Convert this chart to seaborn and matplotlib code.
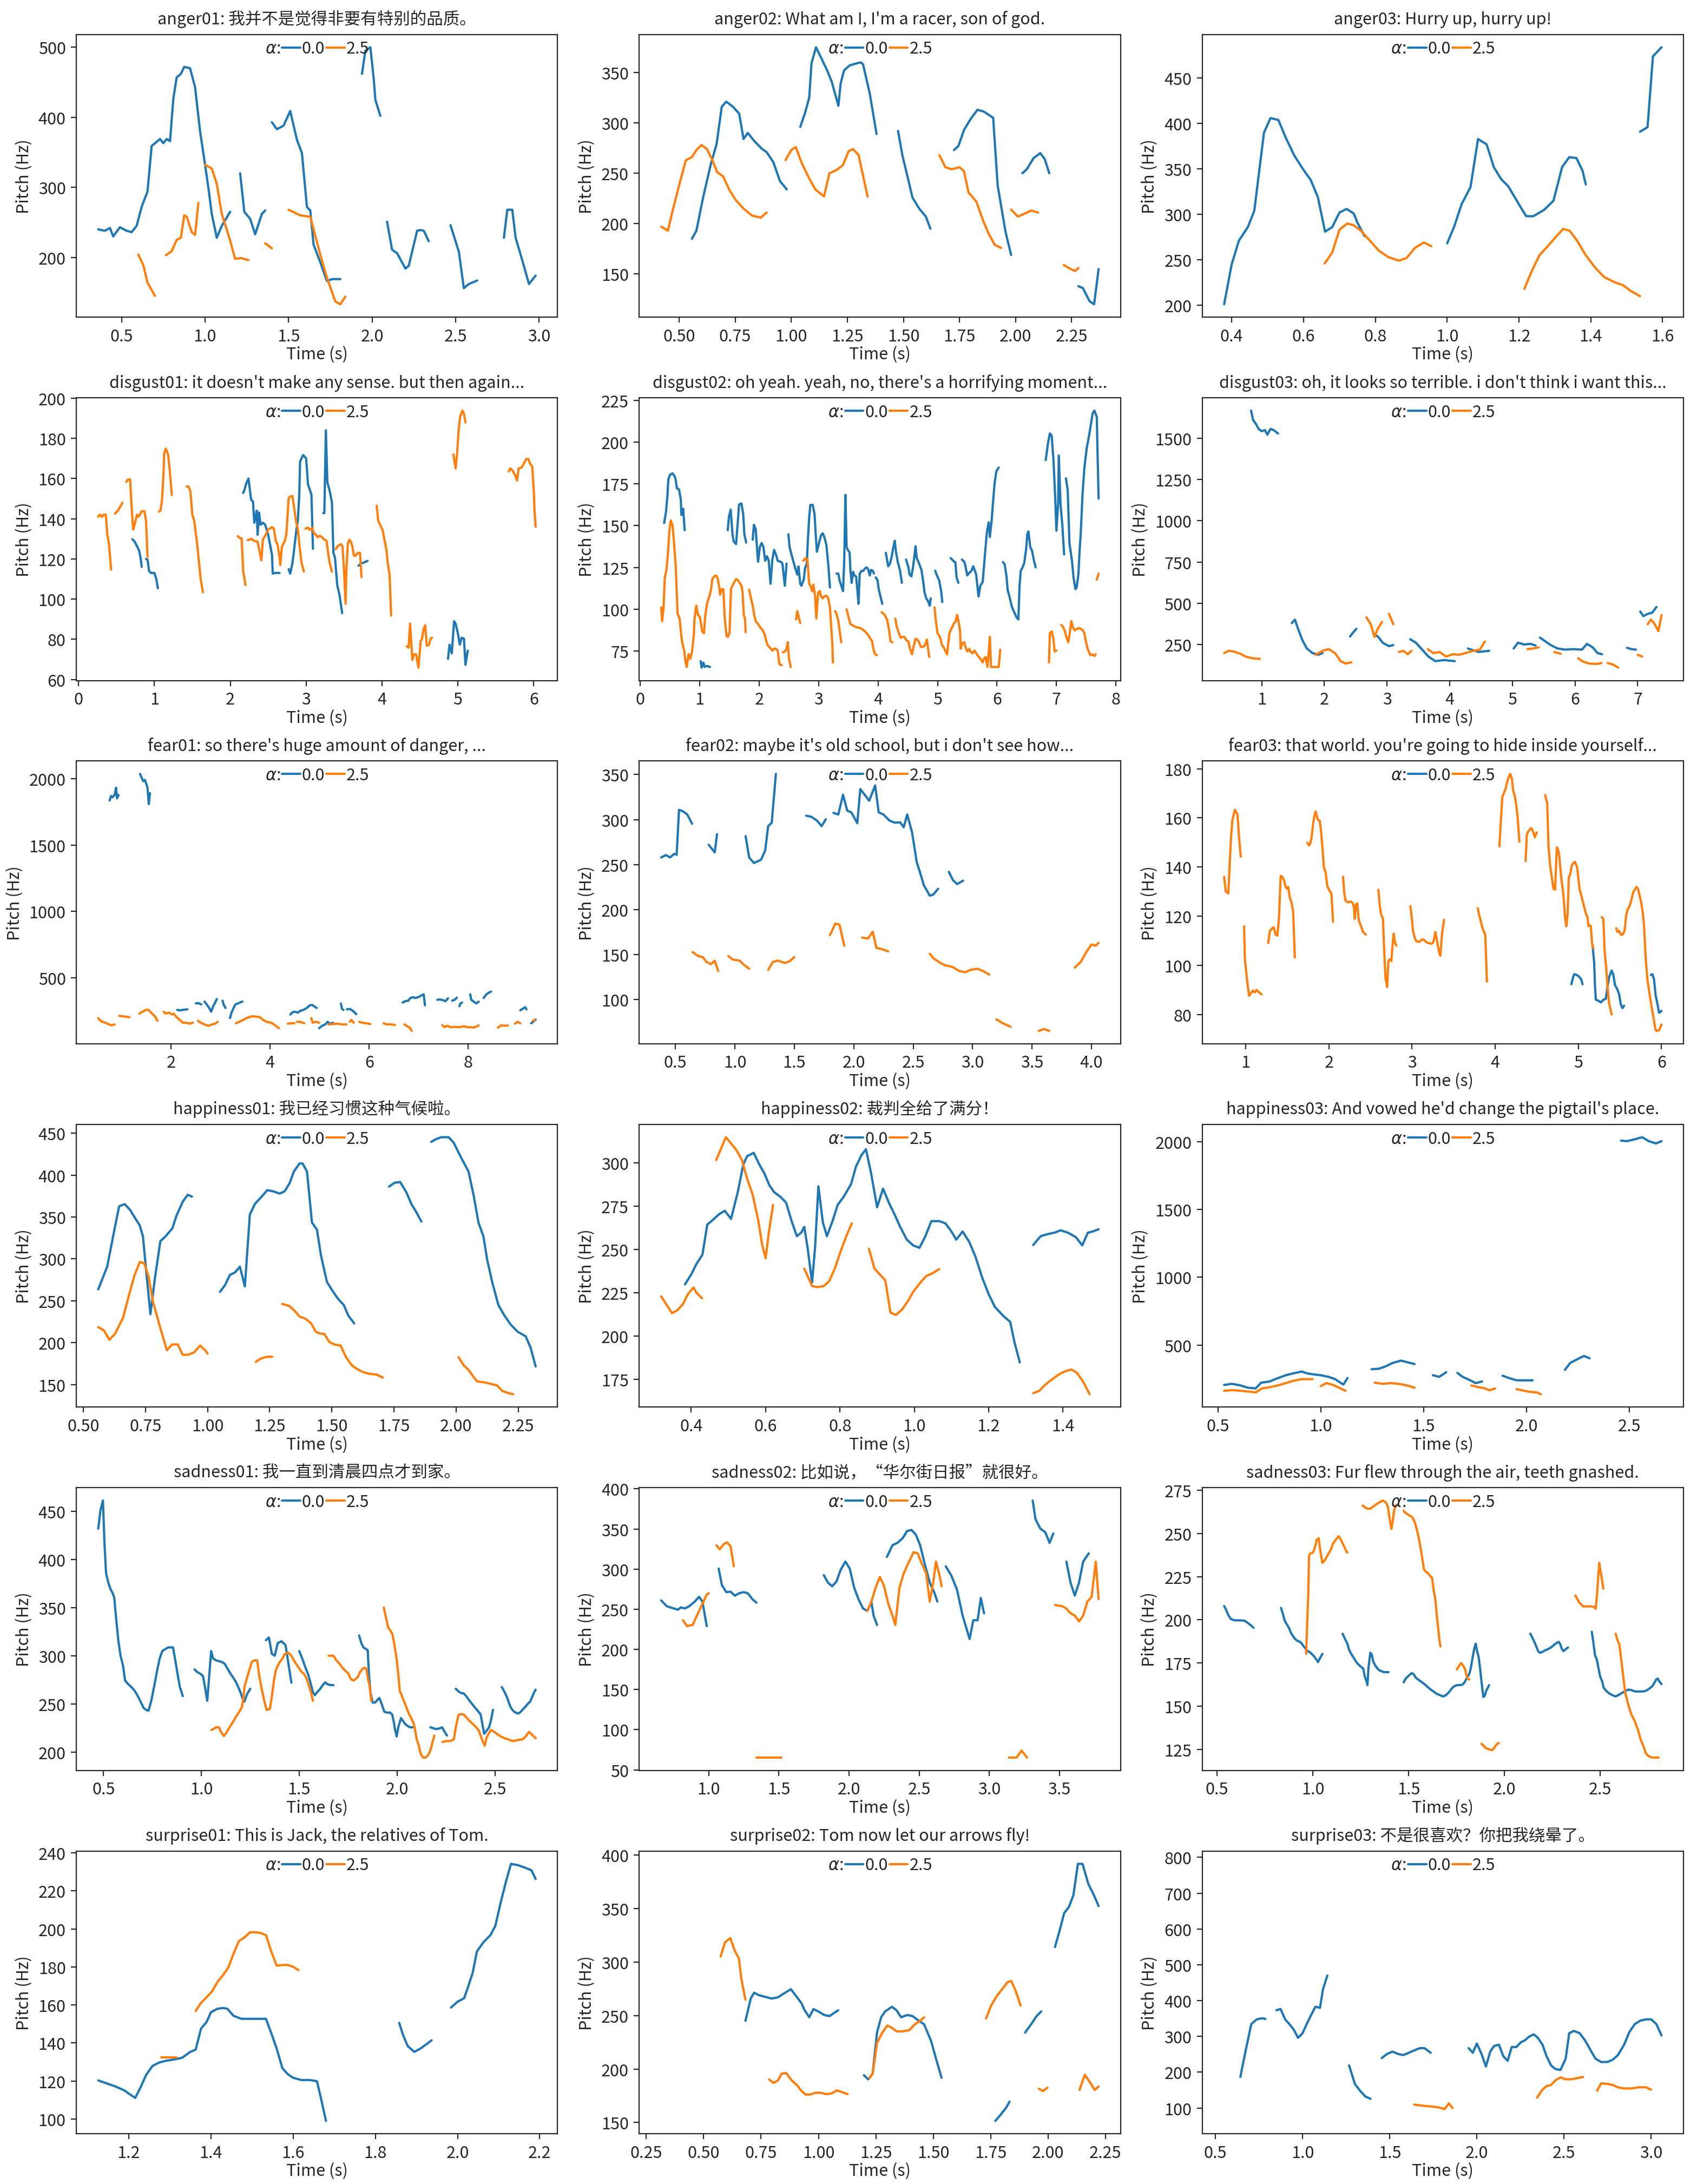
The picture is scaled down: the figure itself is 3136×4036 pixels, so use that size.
import matplotlib
matplotlib.use("Agg")
import matplotlib.pyplot as plt
from matplotlib.lines import Line2D
import numpy as np
import pandas as pd
import seaborn as sns

# pitch contours, one list of (time s, pitch Hz) per voiced segment
anger01_a0 = [
    [(0.36, 240), (0.40, 238), (0.43, 242), (0.45, 230), (0.49, 243), (0.53, 238), (0.56, 236), (0.59, 245), (0.62, 272), (0.655, 294), (0.68, 359), (0.73, 369), (0.75, 363), (0.77, 369), (0.79, 366), (0.81, 427), (0.83, 457), (0.855, 462), (0.875, 472), (0.91, 470), (0.94, 443), (0.97, 380), (1.0, 332), (1.02, 299), (1.04, 262), (1.07, 228), (1.10, 245), (1.15, 265)],
    [(1.21, 320), (1.235, 265), (1.27, 255), (1.30, 233), (1.34, 262), (1.36, 267)],
    [(1.40, 393), (1.43, 383), (1.47, 388), (1.51, 409), (1.55, 368), (1.58, 349), (1.61, 272), (1.63, 267), (1.65, 218), (1.69, 193), (1.73, 166), (1.76, 169), (1.81, 169)],
    [(1.94, 462), (1.96, 495), (1.99, 500), (2.01, 455), (2.02, 425), (2.05, 402)],
    [(2.09, 251), (2.12, 211), (2.15, 206), (2.20, 184), (2.22, 188), (2.27, 238), (2.29, 239), (2.31, 238), (2.34, 223)],
    [(2.47, 246), (2.52, 208), (2.55, 156), (2.58, 162), (2.63, 167)],
    [(2.79, 228), (2.81, 268), (2.84, 268), (2.86, 228), (2.89, 204), (2.94, 162), (2.98, 174)],
]
anger01_a1 = [
    [(0.60, 204), (0.63, 189), (0.655, 164), (0.70, 145)],
    [(0.765, 203), (0.80, 209), (0.83, 225), (0.855, 228), (0.875, 260), (0.89, 258), (0.92, 236), (0.94, 232), (0.96, 278)],
    [(1.0, 332), (1.04, 327), (1.07, 305), (1.10, 262), (1.145, 228), (1.18, 198), (1.215, 199), (1.26, 196)],
    [(1.36, 220), (1.40, 213)],
    [(1.50, 268), (1.57, 260), (1.63, 258), (1.66, 231), (1.69, 204), (1.73, 171), (1.78, 137), (1.81, 133), (1.84, 144)],
]

anger02_a0 = [
    [(0.557, 185), (0.577, 193), (0.605, 224), (0.64, 258), (0.667, 279), (0.69, 316), (0.71, 321), (0.74, 316), (0.768, 309), (0.787, 284), (0.806, 290), (0.835, 282), (0.87, 274), (0.89, 271), (0.92, 261), (0.95, 242), (0.98, 234)],
    [(1.04, 296), (1.06, 309), (1.08, 325), (1.09, 359), (1.11, 375), (1.13, 366), (1.16, 352), (1.18, 341), (1.21, 317), (1.22, 339), (1.235, 352), (1.26, 357), (1.29, 359), (1.31, 360), (1.32, 358), (1.35, 329), (1.38, 289)],
    [(1.476, 292), (1.495, 268), (1.52, 245), (1.54, 226), (1.57, 215), (1.60, 207), (1.62, 195)],
    [(1.725, 273), (1.745, 277), (1.77, 293), (1.80, 304), (1.83, 313), (1.86, 311), (1.90, 305), (1.92, 238), (1.955, 192), (1.98, 169)],
    [(2.03, 250), (2.05, 254), (2.08, 265), (2.11, 270), (2.13, 264), (2.15, 250)],
    [(2.28, 138), (2.30, 136), (2.33, 123), (2.35, 120), (2.37, 155)],
]
anger02_a1 = [
    [(0.42, 197), (0.45, 193), (0.47, 212), (0.50, 238), (0.53, 263), (0.557, 266), (0.577, 273), (0.60, 278), (0.624, 274), (0.648, 263), (0.67, 251), (0.696, 247), (0.725, 233), (0.754, 223), (0.787, 215), (0.825, 208), (0.864, 206), (0.89, 211)],
    [(0.974, 263), (1.0, 273), (1.02, 276), (1.045, 261), (1.075, 247), (1.107, 234), (1.146, 227), (1.17, 250), (1.20, 253), (1.23, 258), (1.256, 272), (1.275, 274), (1.30, 268), (1.34, 227)],
    [(1.66, 268), (1.687, 256), (1.715, 254), (1.75, 256), (1.77, 252), (1.79, 231), (1.825, 222), (1.855, 203), (1.88, 190), (1.907, 179), (1.935, 176)],
    [(1.98, 214), (2.01, 207), (2.04, 210), (2.07, 213), (2.10, 211)],
    [(2.215, 159), (2.245, 155), (2.265, 153), (2.28, 156)],
]

anger03_a0 = [
    [(0.379, 201), (0.40, 245), (0.42, 271), (0.445, 286), (0.463, 304), (0.478, 352), (0.49, 390), (0.508, 406), (0.53, 404), (0.55, 385), (0.574, 365), (0.60, 349), (0.62, 338), (0.64, 319), (0.66, 281), (0.68, 286), (0.70, 302), (0.72, 306), (0.74, 301), (0.75, 291), (0.77, 276)],
    [(1.0, 268), (1.02, 287), (1.04, 311), (1.065, 330), (1.086, 383), (1.11, 377), (1.13, 352), (1.15, 339), (1.17, 331), (1.20, 311), (1.22, 298), (1.24, 298), (1.27, 305), (1.296, 315), (1.32, 352), (1.34, 363), (1.36, 362), (1.377, 348), (1.386, 333)],
    [(1.537, 391), (1.558, 396), (1.573, 474), (1.597, 484)],
]
anger03_a1 = [
    [(0.659, 246), (0.68, 258), (0.70, 283), (0.722, 290), (0.74, 288), (0.76, 282), (0.785, 271), (0.81, 260), (0.836, 253), (0.866, 249), (0.887, 252), (0.91, 263), (0.935, 269), (0.956, 265)],
    [(1.215, 218), (1.236, 238), (1.257, 255), (1.28, 265), (1.30, 274), (1.323, 284), (1.341, 282), (1.362, 271), (1.386, 255), (1.413, 241), (1.437, 231), (1.468, 225), (1.49, 222), (1.51, 216), (1.537, 210)],
]

disgust01_a0 = [
    [(0.71, 129.8), (0.74, 128.6), (0.775, 126), (0.80, 124), (0.82, 120), (0.833, 116)],
    [(0.89, 120), (0.91, 119.6), (0.93, 114), (0.955, 113), (1.0, 113), (1.025, 110), (1.046, 105.4)],
    [(2.17, 152.8), (2.19, 154.6), (2.21, 157.5), (2.24, 160), (2.25, 157), (2.275, 149.5), (2.30, 148.5), (2.317, 138), (2.33, 140.5), (2.35, 144), (2.36, 132), (2.38, 143), (2.40, 137), (2.43, 138), (2.46, 137), (2.50, 132), (2.525, 127), (2.55, 122), (2.56, 112.7), (2.59, 113), (2.65, 113)],
    [(2.77, 114.9), (2.79, 112.7), (2.82, 118), (2.84, 124), (2.87, 134), (2.89, 139), (2.91, 152), (2.92, 168.4), (2.96, 171.7), (3.0, 170), (3.025, 157), (3.07, 152), (3.09, 125)],
    [(3.225, 142.8), (3.24, 142.8), (3.26, 184), (3.28, 158), (3.31, 154), (3.34, 148), (3.36, 123), (3.38, 120.6), (3.41, 107), (3.44, 102), (3.475, 93)],
    [(3.69, 116.6), (3.73, 118), (3.75, 118), (3.81, 119)],
    [(4.87, 70.3), (4.89, 77.3), (4.92, 73), (4.95, 89), (4.97, 87.8), (5.0, 83), (5.025, 77.3), (5.05, 80.8), (5.08, 80.3), (5.10, 67.3), (5.13, 74.3)],
]
disgust01_a1 = [
    [(0.26, 141), (0.28, 142), (0.31, 141), (0.33, 142), (0.36, 142), (0.38, 132), (0.40, 128), (0.43, 114.7)],
    [(0.48, 142.5), (0.52, 144), (0.55, 146), (0.58, 148)],
    [(0.63, 158.3), (0.65, 159.5), (0.68, 159.5), (0.70, 146), (0.72, 134.6), (0.73, 135.6), (0.77, 142), (0.79, 141), (0.81, 142), (0.83, 143.7), (0.87, 143.7), (0.89, 139), (0.91, 121)],
    [(1.06, 143.5), (1.08, 144), (1.10, 149), (1.12, 162), (1.13, 172.7), (1.15, 174.9), (1.18, 172), (1.20, 165), (1.23, 151.8)],
    [(1.425, 156), (1.45, 156), (1.475, 153.5), (1.50, 142), (1.525, 139), (1.56, 128.6), (1.59, 117.6), (1.61, 110), (1.64, 103.4)],
    [(2.10, 131.3), (2.13, 130.3), (2.15, 130.3), (2.17, 114), (2.20, 107)],
    [(2.23, 129.3), (2.28, 130), (2.31, 129), (2.36, 128.6), (2.39, 123), (2.41, 119.3), (2.43, 129.6), (2.47, 132.3), (2.50, 134.6), (2.55, 135.8), (2.575, 135), (2.60, 129), (2.625, 127), (2.65, 120.6), (2.66, 117), (2.68, 126), (2.72, 129), (2.74, 132.6), (2.77, 150.4), (2.80, 151.2), (2.82, 151.2), (2.84, 146), (2.87, 138), (2.89, 135), (2.92, 124), (2.94, 118), (2.97, 113.7)],
    [(2.99, 135), (3.02, 135.6), (3.05, 134.4), (3.08, 135.4), (3.10, 133), (3.13, 132), (3.15, 130.8), (3.18, 131.5), (3.21, 130.8), (3.23, 129.9), (3.27, 128.9), (3.29, 122.9), (3.31, 118), (3.34, 113.7)],
    [(3.39, 124.8), (3.42, 126.6), (3.46, 127.3), (3.48, 126), (3.50, 114), (3.52, 97.7), (3.53, 114), (3.55, 127.6), (3.57, 129.6), (3.59, 128.6), (3.61, 126), (3.63, 121.6), (3.65, 121.6), (3.68, 123), (3.71, 123), (3.73, 111)],
    [(3.93, 146.5), (3.95, 139), (3.98, 136.6), (4.01, 134), (4.03, 130), (4.06, 124), (4.075, 118), (4.10, 112), (4.12, 91.8)],
    [(4.325, 76.5), (4.35, 75.8), (4.37, 87.8), (4.40, 69.8), (4.42, 72.5), (4.45, 72.5), (4.48, 65.9), (4.51, 79.3), (4.525, 79.8), (4.55, 85.3), (4.57, 87), (4.59, 76.8), (4.62, 77.3), (4.64, 80.3), (4.66, 80.8)],
    [(4.94, 172), (4.97, 165), (4.99, 172.4), (5.01, 184), (5.03, 190.8), (5.06, 193.8), (5.08, 192.3), (5.10, 187.9)],
    [(5.67, 163.5), (5.69, 165), (5.72, 164), (5.75, 162), (5.78, 159), (5.80, 165), (5.84, 165.5), (5.87, 167.5), (5.90, 169.7), (5.93, 169.7), (5.95, 167.5), (5.98, 166), (6.0, 154), (6.01, 144), (6.025, 136)],
]

disgust02_a0 = [
    [(0.40, 151.6), (0.43, 158), (0.455, 167.9), (0.47, 177.7), (0.50, 180.5), (0.54, 181.3), (0.565, 180.3), (0.59, 178.3), (0.615, 172.3), (0.65, 171.7), (0.68, 165.7), (0.69, 156.4), (0.72, 160.2), (0.745, 147.3)],
    [(1.015, 68.9), (1.03, 65), (1.06, 68), (1.08, 65.4), (1.12, 66), (1.17, 65.4)],
    [(1.47, 147.3), (1.49, 155.3), (1.52, 159.6), (1.55, 144.8), (1.57, 140.5), (1.61, 139), (1.64, 152.5), (1.66, 162.6), (1.70, 163.3), (1.73, 157), (1.75, 144.8), (1.78, 139.9)],
    [(1.89, 141.6), (1.91, 150.5), (1.94, 148), (1.97, 132.8), (1.98, 128.4), (2.01, 137.2), (2.04, 139.6), (2.07, 137.2), (2.10, 129), (2.13, 131.7), (2.16, 129), (2.19, 115.2), (2.22, 129.5), (2.25, 135.5), (2.29, 131.7), (2.31, 129), (2.37, 128.2), (2.39, 127.3), (2.43, 114), (2.46, 127.3)],
    [(2.49, 144.8), (2.51, 137.2), (2.55, 131.7), (2.575, 128.4), (2.61, 124), (2.64, 120.7), (2.66, 125.6), (2.69, 115.2), (2.71, 114), (2.75, 117.9), (2.77, 124.5), (2.80, 127.3), (2.82, 142.6), (2.84, 154.7), (2.86, 162.4), (2.90, 162.4), (2.93, 157), (2.95, 144.8), (2.97, 134.4), (3.0, 138.8), (3.04, 144.3), (3.07, 145.4), (3.10, 142.6), (3.13, 138.3), (3.16, 127.3), (3.19, 113)],
    [(3.30, 121.3), (3.33, 121.3), (3.35, 117.4), (3.38, 114), (3.41, 110.8), (3.43, 129.5), (3.45, 168.4), (3.47, 137.2), (3.49, 135.5), (3.52, 133.9), (3.535, 122.9), (3.555, 115.8), (3.58, 122.4), (3.60, 120.2), (3.63, 119.6), (3.65, 112), (3.67, 103.2), (3.69, 121.3), (3.72, 122.9), (3.75, 122.9), (3.78, 124.5), (3.81, 125), (3.83, 124), (3.86, 120.2), (3.88, 123.5), (3.91, 123), (3.93, 121.3)],
    [(3.96, 119), (3.99, 117.4), (4.01, 112), (4.04, 107.6), (4.07, 103.2)],
    [(4.13, 133.7), (4.17, 125.6), (4.20, 127.3), (4.23, 131.7), (4.25, 136), (4.28, 141), (4.30, 134.4), (4.33, 128.4), (4.37, 122.9), (4.40, 115.8)],
    [(4.47, 129.7), (4.51, 125.1), (4.53, 120.7), (4.56, 119.6), (4.59, 125.7), (4.61, 131.7), (4.63, 137.7), (4.65, 130.6), (4.69, 127.3), (4.73, 123.4), (4.76, 116.3), (4.78, 110.3), (4.81, 106.5), (4.84, 104.8), (4.87, 102), (4.885, 106.5)],
    [(4.96, 123), (4.99, 120.2), (5.03, 116.9), (5.06, 110.9), (5.08, 104.3)],
    [(5.22, 130.6), (5.25, 129.5), (5.28, 128.4), (5.30, 128.2), (5.32, 119), (5.35, 115.8)],
    [(5.41, 129.7), (5.45, 128.4), (5.47, 125.7), (5.50, 120.2), (5.535, 121.8), (5.57, 122.9), (5.60, 125.7), (5.63, 122.9), (5.65, 120.7), (5.69, 107.6), (5.72, 114), (5.76, 116.3), (5.79, 129.5), (5.83, 146), (5.86, 152), (5.88, 143.2), (5.91, 153.1), (5.935, 164.6), (5.96, 175.5), (5.99, 182.7), (6.03, 184.8)],
    [(6.10, 128.2), (6.13, 126.8), (6.16, 119.6), (6.18, 111.4), (6.21, 107.6), (6.25, 101.5), (6.29, 98.2), (6.33, 95), (6.36, 93.9), (6.38, 114), (6.40, 122.9), (6.43, 125), (6.46, 127.8), (6.49, 136), (6.51, 144.8), (6.53, 146.5), (6.56, 137.2), (6.59, 135), (6.62, 129.5), (6.65, 125)],
    [(6.82, 189.3), (6.86, 199.7), (6.89, 205.2), (6.92, 204), (6.95, 189.8), (6.98, 166.8), (7.0, 147), (7.03, 164), (7.04, 192), (7.07, 162.4), (7.10, 150.3), (7.13, 132.8)],
    [(7.16, 178.3), (7.19, 171.2), (7.22, 139.4), (7.26, 129.5), (7.29, 118.5), (7.32, 112), (7.34, 113), (7.37, 120.7), (7.39, 135), (7.41, 145.4), (7.44, 169), (7.47, 184.3), (7.51, 196.4), (7.55, 204), (7.58, 210.6), (7.61, 217.2), (7.64, 218.9), (7.68, 215), (7.69, 197.5), (7.71, 166.2)],
]
disgust02_a1 = [
    [(0.35, 101), (0.365, 92.8), (0.39, 101), (0.41, 118.5), (0.44, 124), (0.46, 131.7), (0.49, 147.6), (0.51, 153.1), (0.54, 150.3), (0.565, 140.5), (0.595, 125), (0.626, 97.2), (0.66, 94.4), (0.69, 83.4), (0.71, 79.1), (0.74, 74.7), (0.756, 69.2), (0.78, 65.4), (0.81, 73), (0.84, 70.3), (0.87, 74.7), (0.90, 85.1), (0.91, 93.9), (0.94, 102.1), (0.97, 96.6), (1.0, 95.5), (1.04, 86.7), (1.07, 85.6), (1.09, 95.5), (1.12, 103.2), (1.16, 107.6), (1.19, 112), (1.21, 118), (1.24, 119.6), (1.275, 120.2), (1.30, 118.5), (1.33, 112.5), (1.34, 108.7), (1.37, 112), (1.395, 112), (1.42, 94.4), (1.45, 84), (1.47, 83.4), (1.50, 85.6), (1.525, 112), (1.55, 114.1), (1.59, 116.9), (1.61, 118), (1.64, 117.4), (1.66, 116.3), (1.70, 114.1), (1.72, 109.8), (1.74, 96.6), (1.76, 94.4), (1.77, 86.2)],
    [(1.83, 111.7), (1.86, 106.5), (1.89, 102.1), (1.915, 96.6), (1.94, 92.8), (1.98, 91.1), (2.02, 88.9), (2.05, 87.8), (2.09, 85.1), (2.12, 80.7), (2.14, 78.5), (2.18, 76.9), (2.22, 75.2), (2.25, 76.3), (2.28, 76.3), (2.31, 75.2), (2.34, 67), (2.38, 66.5)],
    [(2.40, 74.1), (2.43, 74.7), (2.46, 76.3), (2.48, 80.2), (2.50, 70.3), (2.53, 65.4)],
    [(2.62, 93.9), (2.64, 98.8), (2.66, 96), (2.69, 91.7)],
    [(2.74, 129), (2.78, 130.6), (2.81, 130), (2.84, 115.2), (2.86, 114.1), (2.89, 110.8), (2.91, 114.7), (2.94, 107.6), (2.96, 94.4), (2.99, 109.8), (3.02, 110.8), (3.04, 107.6), (3.07, 106.5), (3.09, 107.6), (3.13, 108.1), (3.16, 106.5), (3.19, 101), (3.21, 90), (3.23, 79), (3.24, 68.1)],
    [(3.275, 98.8), (3.30, 97.1), (3.33, 93.3), (3.35, 87.8), (3.38, 80.2)],
    [(3.47, 99.9), (3.50, 95.5), (3.535, 91.1), (3.585, 90), (3.64, 89.1), (3.70, 88.7), (3.74, 87.8), (3.78, 86.7), (3.82, 85.1), (3.86, 82.9), (3.90, 80.7), (3.92, 76.3), (3.95, 73), (3.98, 72.5)],
    [(4.06, 98.2), (4.11, 96.6), (4.15, 93.9), (4.18, 88.4), (4.21, 80.7), (4.24, 80.2)],
    [(4.29, 94.4), (4.31, 90), (4.35, 85.6), (4.38, 82.9), (4.41, 83.4), (4.44, 83.4), (4.48, 81.2), (4.51, 80.7), (4.54, 75.8), (4.57, 73), (4.60, 78), (4.63, 82.3), (4.66, 81.8), (4.69, 80.2), (4.72, 77.4), (4.76, 77.4), (4.79, 78.5), (4.82, 81.8), (4.86, 71.4)],
    [(4.95, 101), (4.97, 93.3), (5.0, 85.6), (5.04, 83.4), (5.08, 78), (5.10, 77.4), (5.135, 74.7), (5.16, 73), (5.20, 85.6), (5.22, 87.3), (5.25, 89.5), (5.28, 91.7), (5.30, 92.2), (5.33, 96.6), (5.35, 93.3), (5.38, 86.7), (5.39, 76.3), (5.42, 79.6), (5.45, 80.2), (5.47, 77.4), (5.50, 74.7), (5.535, 76.3), (5.55, 74.7), (5.59, 73.6), (5.62, 75.2), (5.65, 73.6), (5.68, 72), (5.72, 70.3), (5.76, 68.1), (5.78, 70.3), (5.81, 71.4), (5.84, 65.4), (5.86, 73.6), (5.88, 83.4), (5.90, 65.4), (5.95, 65.4), (6.03, 65.4), (6.055, 75.8)],
    [(6.875, 68.1), (6.89, 85.6), (6.92, 86.7), (6.95, 82.3), (6.97, 74.7), (7.0, 75.2)],
    [(7.08, 90.6), (7.11, 89.5), (7.145, 86.7), (7.17, 82.9), (7.20, 80.2), (7.22, 84.5), (7.25, 92.8), (7.28, 88.9), (7.31, 87.3), (7.34, 88), (7.37, 88.7), (7.40, 88.4), (7.44, 87.6), (7.47, 85.6), (7.50, 80.2), (7.52, 76.9), (7.55, 74.1), (7.57, 72.5), (7.60, 73), (7.64, 72), (7.66, 73)],
    [(7.68, 117.7), (7.71, 121.3)],
]

disgust03_a0 = [
    [(0.83, 1668), (0.86, 1613), (0.91, 1585), (0.95, 1557), (1.0, 1543), (1.05, 1550), (1.09, 1522), (1.14, 1557), (1.19, 1550), (1.26, 1529)],
    [(1.48, 380), (1.53, 401), (1.58, 345), (1.65, 275), (1.72, 226), (1.81, 198), (1.90, 188), (1.97, 198)],
    [(2.41, 299), (2.46, 324), (2.51, 345)],
    [(2.78, 317), (2.86, 296), (2.93, 261), (3.03, 240), (3.10, 247)],
    [(3.37, 282), (3.46, 261), (3.56, 219), (3.66, 177), (3.77, 149), (3.91, 156), (4.08, 149)],
    [(4.29, 226), (4.46, 205), (4.63, 212)],
    [(5.02, 226), (5.09, 261), (5.19, 250), (5.29, 254), (5.37, 244)],
    [(5.44, 292), (5.53, 268), (5.61, 247), (5.72, 226), (5.84, 219), (5.97, 222), (6.11, 219), (6.19, 254), (6.28, 233), (6.36, 198), (6.43, 191)],
    [(6.83, 230), (6.90, 222), (6.97, 219)],
    [(7.04, 450), (7.09, 422), (7.16, 436), (7.23, 443), (7.30, 478)],
]
disgust03_a1 = [
    [(0.40, 198), (0.47, 212), (0.55, 208), (0.66, 194), (0.74, 177), (0.86, 166), (0.97, 163)],
    [(1.86, 188), (1.97, 212), (2.07, 222), (2.17, 198), (2.26, 149), (2.34, 135), (2.43, 142)],
    [(2.67, 415), (2.74, 373), (2.80, 296), (2.85, 345), (2.92, 387)],
    [(3.03, 436), (3.10, 373)],
    [(3.19, 205), (3.26, 212), (3.33, 191), (3.39, 212)],
    [(3.65, 222), (3.74, 198), (3.84, 205), (3.94, 177), (4.05, 191), (4.15, 188), (4.25, 198), (4.37, 212), (4.48, 219), (4.56, 268)],
    [(5.24, 222), (5.33, 226), (5.42, 233)],
    [(5.67, 205), (5.77, 194)],
    [(6.05, 166), (6.13, 146), (6.22, 135), (6.35, 132), (6.42, 138)],
    [(6.52, 138), (6.61, 128), (6.69, 110)],
    [(7.0, 188), (7.07, 177)],
    [(7.16, 373), (7.21, 401), (7.26, 380), (7.33, 331), (7.38, 429)],
]

fear01_a0 = [
    [(0.76, 1837), (0.79, 1871), (0.82, 1862), (0.86, 1878), (0.89, 1933), (0.91, 1853), (0.94, 1878)],
    [(1.375, 2037), (1.41, 2005), (1.44, 1982), (1.475, 1992), (1.50, 1961), (1.525, 1933), (1.55, 1809), (1.575, 1892)],
    [(2.125, 259), (2.175, 255), (2.24, 259), (2.33, 263)],
    [(2.50, 307), (2.55, 310), (2.61, 300)],
    [(2.675, 321), (2.72, 300), (2.77, 273), (2.81, 245), (2.85, 286), (2.89, 314), (2.925, 341)],
    [(3.04, 328), (3.06, 300), (3.10, 273)],
    [(3.19, 197), (3.22, 238), (3.27, 279), (3.30, 300), (3.35, 307), (3.39, 314), (3.44, 321)],
    [(4.41, 224), (4.44, 238), (4.50, 245), (4.56, 238), (4.61, 252), (4.675, 259), (4.74, 273), (4.80, 293), (4.85, 296), (4.89, 286), (4.94, 273)],
    [(4.99, 121), (5.05, 139), (5.11, 149), (5.16, 169), (5.21, 155), (5.27, 162)],
    [(5.43, 307), (5.45, 266), (5.48, 259)],
    [(5.55, 263), (5.61, 266), (5.675, 250), (5.74, 226)],
    [(6.675, 314), (6.725, 324), (6.79, 328), (6.83, 348), (6.89, 355), (6.925, 348), (7.0, 355), (7.06, 369), (7.10, 376), (7.125, 293)],
    [(7.375, 335), (7.425, 337), (7.49, 332), (7.54, 324), (7.59, 346)],
    [(7.675, 328), (7.725, 335), (7.77, 351)],
    [(7.82, 286), (7.84, 307), (7.875, 314)],
    [(8.04, 376), (8.06, 335), (8.11, 321), (8.16, 307), (8.21, 321)],
    [(8.31, 348), (8.35, 369), (8.39, 383), (8.46, 397)],
    [(9.05, 255), (9.10, 268), (9.15, 279), (9.175, 263)],
    [(9.27, 158), (9.31, 169), (9.36, 186)],
]
fear01_a1 = [
    [(0.53, 197), (0.56, 183), (0.61, 169), (0.675, 162), (0.75, 149), (0.80, 142), (0.86, 149)],
    [(0.955, 214), (1.02, 211), (1.08, 208), (1.16, 204)],
    [(1.36, 231), (1.425, 245), (1.49, 259), (1.54, 259), (1.58, 245), (1.625, 227), (1.675, 211), (1.725, 176)],
    [(1.85, 245), (1.89, 231), (1.955, 238), (2.02, 224)],
    [(2.05, 231), (2.11, 204), (2.175, 183), (2.24, 162), (2.31, 162), (2.375, 155), (2.44, 162)],
    [(2.54, 176), (2.60, 162), (2.675, 149), (2.75, 139), (2.83, 149), (2.89, 155), (2.94, 169)],
    [(3.31, 158), (3.375, 169), (3.46, 183), (3.52, 197), (3.58, 204), (3.64, 211), (3.71, 208), (3.79, 204), (3.86, 183), (3.925, 169), (4.02, 162), (4.08, 149), (4.175, 121)],
    [(4.36, 155), (4.43, 158), (4.49, 158)],
    [(4.54, 169), (4.60, 169), (4.69, 158)],
    [(4.83, 197), (4.86, 162), (4.925, 169), (4.99, 162)],
    [(5.175, 149), (5.27, 152), (5.36, 155), (5.455, 149), (5.54, 149)],
    [(5.61, 169), (5.64, 183), (5.69, 162)],
    [(5.80, 169), (5.86, 162), (5.94, 158), (6.02, 152)],
    [(6.29, 158), (6.36, 149), (6.455, 149), (6.52, 144)],
    [(6.71, 149), (6.77, 135), (6.81, 128), (6.86, 100)],
    [(7.475, 144), (7.52, 128), (7.58, 139), (7.64, 128), (7.725, 131), (7.81, 128), (7.91, 135), (7.99, 128), (8.05, 128), (8.11, 125), (8.175, 135), (8.21, 142)],
    [(8.60, 125), (8.66, 142), (8.74, 139), (8.80, 142)],
    [(8.94, 155), (9.0, 169), (9.05, 158)],
    [(9.30, 176), (9.34, 183)],
]

fear02_a0 = [
    [(0.38, 258), (0.42, 260.6), (0.455, 258), (0.49, 262), (0.51, 261), (0.53, 310.8), (0.56, 309.5), (0.60, 305.7), (0.64, 295.4)],
    [(0.78, 272), (0.83, 263.7), (0.85, 283.8)],
    [(1.09, 281.7), (1.12, 258), (1.16, 251.8), (1.22, 255.4), (1.255, 265.7), (1.28, 292.8), (1.31, 296.6), (1.345, 350.8)],
    [(1.60, 304.4), (1.645, 303), (1.69, 299), (1.73, 292.8), (1.765, 300.5)],
    [(1.83, 307.5), (1.87, 305.7), (1.91, 327.6), (1.945, 310), (1.98, 308), (2.03, 296), (2.055, 334), (2.10, 326.3), (2.13, 321), (2.18, 338), (2.21, 308), (2.25, 305.7), (2.30, 299), (2.345, 296.6), (2.39, 297), (2.42, 291.5), (2.45, 305.7), (2.49, 286.3), (2.53, 252.8), (2.555, 242.5), (2.59, 227), (2.64, 215.5), (2.67, 216.8), (2.71, 223.2)],
    [(2.80, 242), (2.835, 232.7), (2.87, 228.4), (2.92, 232.2)],
]
fear02_a1 = [
    [(0.645, 152.8), (0.69, 148.5), (0.73, 147.2), (0.76, 142), (0.80, 139.4), (0.83, 143.3), (0.86, 131.7)],
    [(0.945, 148.5), (0.98, 144.6), (1.04, 143.3), (1.07, 139.4), (1.12, 134.3)],
    [(1.28, 133), (1.32, 142), (1.365, 143.3), (1.42, 140.7), (1.46, 142.5), (1.50, 147.2)],
    [(1.80, 171.6), (1.845, 184.5), (1.88, 183.2), (1.92, 160)],
    [(2.07, 169), (2.12, 167.8), (2.16, 175.5), (2.19, 157.5), (2.235, 156.2), (2.29, 153.6)],
    [(2.64, 151), (2.67, 145.9), (2.73, 140.7), (2.77, 138.1), (2.83, 136.3), (2.89, 131.7), (2.94, 130.4), (2.98, 133), (3.04, 134.3), (3.09, 131.7), (3.14, 127.8)],
    [(3.20, 78.1), (3.255, 73.7), (3.32, 69.8)],
    [(3.555, 65.2), (3.60, 67.3), (3.645, 65.2)],
    [(3.86, 135.6), (3.91, 142), (3.96, 153.6), (4.0, 161.3), (4.035, 160), (4.06, 163.1)],
]

fear03_a0 = [
    [(4.915, 92.3), (4.935, 95), (4.95, 96.4), (4.98, 96.1), (5.01, 95.3), (5.035, 94.2), (5.05, 92.3)],
    [(5.17, 108.4), (5.19, 100.9), (5.20, 91.2), (5.21, 86), (5.24, 85.6), (5.27, 84.9), (5.30, 86), (5.33, 86.4), (5.35, 91.2), (5.37, 95.3), (5.40, 97.9), (5.42, 96.1), (5.44, 92), (5.47, 90.1), (5.49, 88.2), (5.51, 84.1), (5.53, 82.6), (5.55, 83.6)],
    [(5.87, 96.1), (5.89, 96.4), (5.91, 94.2), (5.93, 87.5), (5.95, 84.5), (5.97, 80.7), (5.99, 81.1), (6.0, 81.5)],
]
fear03_a1 = [
    [(0.74, 136), (0.76, 130), (0.79, 129.3), (0.81, 143.5), (0.825, 153.2), (0.84, 159.2), (0.87, 163.3), (0.90, 161.5), (0.92, 151.7), (0.94, 144.2)],
    [(0.98, 115.9), (0.99, 102.4), (1.015, 94.2), (1.04, 87.6), (1.06, 88.6), (1.085, 89.7), (1.11, 89), (1.13, 90), (1.16, 89), (1.19, 88.2)],
    [(1.27, 109.1), (1.29, 114), (1.32, 115.1), (1.335, 115.5), (1.36, 112.5), (1.38, 112.1), (1.40, 119.6), (1.42, 136.4), (1.44, 136), (1.46, 134.6), (1.48, 131.9), (1.495, 131.2), (1.51, 131.9), (1.53, 127.5), (1.55, 125.6), (1.57, 121.9), (1.59, 103.2)],
    [(1.74, 149.9), (1.76, 148.8), (1.775, 149.5), (1.79, 151.7), (1.81, 157.7), (1.83, 161.5), (1.84, 162.6), (1.86, 160), (1.87, 159.2), (1.89, 158.8), (1.905, 154.7), (1.92, 148.8), (1.94, 139.8), (1.96, 137.9), (1.98, 132.3), (2.0, 130.8), (2.02, 129.7), (2.03, 129.3), (2.05, 117.7)],
    [(2.17, 136), (2.185, 129.3), (2.20, 126.3), (2.23, 125.6), (2.26, 126), (2.28, 125.6), (2.30, 124.1), (2.31, 118.9), (2.325, 124.8), (2.34, 125.2), (2.36, 118.1), (2.37, 117.4), (2.39, 115.5), (2.41, 113.6), (2.43, 112.9), (2.445, 112.5)],
    [(2.595, 130.8), (2.61, 124.8), (2.625, 121.1), (2.65, 118.9), (2.66, 109.9), (2.68, 94.9), (2.70, 91.2), (2.715, 101.7), (2.73, 102.4), (2.75, 101.7), (2.77, 109.9), (2.78, 112.9), (2.79, 109.9), (2.81, 108)],
    [(2.98, 124.1), (3.0, 118.1), (3.01, 114.4), (3.03, 111.4), (3.05, 109.9), (3.08, 109.5), (3.10, 109.9), (3.12, 110.6), (3.145, 110.3), (3.17, 109.5), (3.19, 109.1), (3.21, 109), (3.23, 108.8), (3.25, 109.1), (3.265, 110.6), (3.28, 113.6), (3.295, 111), (3.31, 108), (3.325, 105.4), (3.34, 103.9), (3.36, 112.9), (3.385, 118.5)],
    [(3.79, 123.2), (3.805, 120.7), (3.82, 118.9), (3.84, 115.9), (3.86, 114), (3.88, 112.5), (3.90, 93.4)],
    [(4.05, 148.4), (4.07, 160), (4.085, 168.6), (4.105, 170.1), (4.125, 171.9), (4.14, 174.2), (4.16, 176.4), (4.18, 177.9), (4.20, 176), (4.215, 171.2), (4.235, 168.9), (4.25, 166), (4.27, 160), (4.29, 150.3)],
    [(4.365, 142.4), (4.38, 153.2), (4.40, 154.7), (4.415, 155.1), (4.43, 155.9), (4.445, 155.1), (4.46, 154), (4.475, 152.1), (4.49, 153.2), (4.50, 154.1)],
    [(4.60, 169.3), (4.625, 166), (4.64, 148.8), (4.66, 140.5), (4.68, 136), (4.70, 131.2), (4.72, 130.8), (4.74, 148), (4.755, 147.3), (4.77, 144.6), (4.79, 136.8), (4.82, 128.6), (4.84, 119.2), (4.855, 115.9), (4.87, 121.1), (4.885, 136), (4.90, 136.8), (4.92, 140.5), (4.94, 141.7), (4.96, 142.1), (4.985, 139.8), (5.015, 130.8), (5.035, 128.6), (5.05, 126.3), (5.07, 123.7), (5.09, 121.1), (5.11, 119.6), (5.12, 115.9), (5.135, 116.3), (5.15, 115.9), (5.165, 108.4), (5.18, 106.9)],
    [(5.28, 119.6), (5.30, 118.9), (5.315, 106.2), (5.335, 98.7), (5.35, 91.2), (5.37, 84.5), (5.40, 80)],
    [(5.455, 115.1), (5.47, 113.6), (5.49, 114), (5.51, 112.5), (5.53, 112.5), (5.555, 114), (5.575, 120.4), (5.59, 122.6), (5.61, 123.7), (5.63, 125.6), (5.65, 128.6), (5.665, 130.1), (5.685, 131.2), (5.70, 131.9), (5.72, 130.8), (5.74, 127.8), (5.755, 125.6), (5.775, 121.1), (5.79, 115.9), (5.81, 102.4), (5.83, 94.2), (5.85, 89.7), (5.87, 85.2), (5.89, 81.1), (5.905, 78.5), (5.925, 74), (5.94, 73.3), (5.97, 73.6), (5.99, 75.1), (6.0, 75.9)],
]

happiness01_a0 = [
    [(0.56, 263.6), (0.596, 290.7), (0.627, 337.8), (0.644, 362.7), (0.666, 365.5), (0.688, 358.6), (0.705, 350.3), (0.727, 340), (0.74, 326.7), (0.753, 285.2), (0.77, 234), (0.788, 276.9), (0.81, 321.2), (0.83, 326.7), (0.858, 336.4), (0.875, 351.7), (0.90, 368.3), (0.92, 376.6), (0.937, 374.4)],
    [(1.05, 260.8), (1.07, 268.6), (1.09, 281), (1.11, 283.8), (1.13, 290.7), (1.15, 267.2), (1.17, 353), (1.19, 365.5), (1.216, 373.8), (1.24, 382.1), (1.264, 380.7), (1.29, 378), (1.31, 380.7), (1.33, 390.4), (1.347, 404.3), (1.37, 414), (1.382, 414), (1.40, 404.3), (1.42, 343.4), (1.44, 335), (1.456, 304.6), (1.48, 272.7), (1.50, 263), (1.526, 251.9), (1.548, 245), (1.566, 232.5), (1.59, 222.9)],
    [(1.73, 386.3), (1.753, 391), (1.775, 391.8), (1.80, 379.4), (1.82, 365.5), (1.84, 355.8), (1.86, 344.7)],
    [(1.90, 439.8), (1.92, 443.1), (1.94, 445.3), (1.97, 445.3), (1.99, 438.9), (2.02, 421), (2.05, 404.3), (2.07, 376.6), (2.09, 343.4), (2.11, 326.7), (2.125, 299), (2.146, 271.3), (2.17, 245), (2.194, 232.5), (2.22, 221.5), (2.247, 213.2), (2.28, 207.6), (2.30, 193.8), (2.32, 171.6)],
]
happiness01_a1 = [
    [(0.56, 218.7), (0.583, 214.5), (0.605, 203.5), (0.627, 210.4), (0.66, 229.8), (0.683, 256.1), (0.705, 279.6), (0.727, 296.3), (0.745, 294.9), (0.762, 279.6), (0.78, 249.2), (0.806, 221.5), (0.836, 191), (0.858, 197.9), (0.88, 197.9), (0.90, 185.5), (0.92, 185.5), (0.945, 188.2), (0.97, 196.5), (0.99, 191), (1.0, 186.8)],
    [(1.194, 177.1), (1.216, 181.3), (1.24, 183.2), (1.26, 183.2)],
    [(1.30, 246.4), (1.33, 243.6), (1.35, 238.1), (1.37, 231.2), (1.395, 228.4), (1.417, 222.9), (1.435, 213.2), (1.45, 211), (1.47, 210.4), (1.49, 200.7), (1.51, 197.9), (1.535, 196.5), (1.557, 182.7), (1.58, 173), (1.60, 168.8), (1.627, 164.7), (1.653, 162.7), (1.68, 161.9), (1.705, 158.3)],
    [(2.01, 182.7), (2.03, 173), (2.05, 167.5), (2.07, 159.1), (2.085, 153.6), (2.11, 152.8), (2.14, 150.8), (2.165, 148.9), (2.185, 142.5), (2.21, 139.8), (2.23, 138.4)],
]

happiness02_a0 = [
    [(0.383, 229.8), (0.40, 235.6), (0.414, 241.6), (0.43, 246.9), (0.443, 264.3), (0.458, 267), (0.475, 270.3), (0.49, 272.3), (0.507, 267.6), (0.525, 283), (0.54, 299), (0.55, 303.7), (0.568, 305.7), (0.583, 299), (0.597, 293.7), (0.61, 287), (0.623, 283), (0.64, 280.3), (0.655, 277), (0.67, 266.3), (0.684, 257.6), (0.696, 259.7), (0.704, 263), (0.713, 250.9), (0.725, 230.9), (0.733, 250.9), (0.742, 286.4), (0.754, 265.6), (0.765, 257.6), (0.78, 266.3), (0.794, 275.7), (0.81, 280.3), (0.83, 287.7), (0.843, 297.7), (0.858, 304.4), (0.87, 307.8), (0.884, 293.7), (0.90, 274.3), (0.916, 285), (0.933, 276.3), (0.948, 269.7), (0.962, 263), (0.98, 255.6), (0.997, 252.3), (1.014, 250.9), (1.03, 257.6), (1.046, 266.3), (1.067, 266.3), (1.084, 265), (1.10, 260.3), (1.113, 255.6), (1.13, 260.3), (1.148, 254.3), (1.165, 245.6), (1.183, 233.6), (1.20, 224.2), (1.217, 216.8), (1.24, 211.5), (1.258, 208.2), (1.27, 196.1), (1.284, 184.8)],
    [(1.32, 252.5), (1.34, 257.6), (1.357, 258.7), (1.377, 259.6), (1.394, 261), (1.414, 259.6), (1.435, 257), (1.452, 252.3), (1.467, 259.6), (1.48, 260.3), (1.496, 261.6)],
]
happiness02_a1 = [
    [(0.319, 222.9), (0.333, 218.2), (0.348, 213.2), (0.362, 214.8), (0.377, 218.2), (0.391, 224.2), (0.406, 228), (0.414, 224.9), (0.429, 221.8)],
    [(0.467, 301.5), (0.478, 307.1), (0.493, 314.7), (0.507, 311.1), (0.522, 307.1), (0.536, 301.7), (0.55, 291), (0.565, 281.7), (0.58, 267), (0.591, 252.3), (0.60, 244.9), (0.609, 260.3), (0.62, 275.7)],
    [(0.704, 238.9), (0.725, 228.9), (0.739, 228.2), (0.757, 228.9), (0.771, 231.6), (0.786, 238.9), (0.803, 249.6), (0.817, 257.6), (0.832, 265)],
    [(0.878, 250.3), (0.893, 238.9), (0.907, 235.6), (0.922, 232.2), (0.936, 213.5), (0.951, 212.2), (0.968, 215.5), (0.983, 220.2), (0.997, 225.5), (1.014, 230.2), (1.032, 234.6), (1.049, 236.2), (1.067, 238.6)],
    [(1.32, 167), (1.336, 168.3), (1.35, 171.4), (1.365, 174.1), (1.386, 177.4), (1.403, 179.4), (1.423, 180.7), (1.438, 178.7), (1.455, 173.4), (1.472, 166.4)],
]

happiness03_a0 = [
    [(0.53, 205.5), (0.568, 214), (0.61, 202), (0.646, 185), (0.683, 180), (0.71, 222.6), (0.75, 231), (0.787, 253.4), (0.83, 277.4), (0.866, 291), (0.907, 304.8), (0.933, 291), (0.97, 282.5), (1.0, 277.4), (1.038, 265.4), (1.07, 248.3), (1.095, 222.6), (1.11, 208.9), (1.13, 256.8)],
    [(1.247, 321.9), (1.283, 325.3), (1.315, 342.5), (1.35, 368), (1.39, 385.3), (1.42, 373.3), (1.456, 359.6)],
    [(1.545, 277.4), (1.576, 265.4), (1.61, 299.7)],
    [(1.664, 294.5), (1.69, 265.4), (1.727, 239.7), (1.753, 219.2), (1.784, 231)],
    [(1.884, 274), (1.915, 256.8), (1.952, 239.7), (1.993, 239.7), (2.03, 239.7)],
    [(2.187, 316.8), (2.213, 368), (2.25, 397.3), (2.28, 419.5), (2.307, 402.4)],
    [(2.46, 2007), (2.49, 2003), (2.527, 2017), (2.563, 2032), (2.595, 2003), (2.63, 1986), (2.657, 2003)],
]
happiness03_a1 = [
    [(0.53, 162.7), (0.568, 167.8), (0.61, 162.7), (0.646, 157.5), (0.683, 150.7), (0.714, 179.8), (0.75, 188.4), (0.79, 202), (0.83, 219.2), (0.866, 236.3), (0.907, 248.3), (0.933, 248.3), (0.96, 248.3)],
    [(1.0, 197), (1.027, 219.2), (1.06, 205.5), (1.09, 185), (1.12, 162.7)],
    [(1.262, 222.6), (1.30, 214), (1.34, 219.2), (1.377, 214), (1.42, 202), (1.456, 185)],
    [(1.732, 202), (1.77, 188.4), (1.80, 180), (1.82, 166), (1.847, 180)],
    [(1.952, 174.7), (1.99, 162.7), (2.02, 154), (2.05, 150.7), (2.07, 137)],
]

sadness01_a0 = [
    [(0.473, 431.8), (0.484, 450.5), (0.497, 461), (0.505, 416.2), (0.513, 385.7), (0.524, 376.2), (0.535, 369.5), (0.547, 364.8), (0.555, 360), (0.563, 341.9), (0.576, 315.2), (0.587, 300), (0.60, 289.5), (0.61, 274.3), (0.626, 270.5), (0.642, 267.6), (0.658, 263.8), (0.67, 260), (0.68, 256.2), (0.694, 250.5), (0.705, 245.7), (0.718, 243.8), (0.73, 242.9), (0.744, 253.3), (0.76, 269.5), (0.776, 286.7), (0.787, 297.1), (0.80, 304.8), (0.815, 306.7), (0.83, 308.6), (0.855, 308.6), (0.866, 296.2), (0.88, 279), (0.89, 267.6), (0.905, 258.1)],
    [(0.965, 285.7), (0.98, 282.9), (0.997, 281), (1.008, 279), (1.02, 265.7), (1.03, 253.3), (1.04, 279), (1.05, 304.8), (1.06, 297.1), (1.075, 295.2), (1.09, 294.3), (1.107, 293.3), (1.12, 291.4), (1.136, 285.7), (1.147, 281.9), (1.16, 278.1), (1.175, 273.3), (1.186, 268.6), (1.20, 261.9), (1.21, 256.2), (1.22, 252.4), (1.233, 260), (1.25, 265.7)],
    [(1.33, 316), (1.345, 319), (1.36, 302), (1.375, 300), (1.39, 313), (1.41, 315), (1.43, 311), (1.45, 285), (1.46, 272)],
    [(1.50, 304.8), (1.517, 296.2), (1.53, 288.6), (1.545, 281), (1.556, 273.3), (1.57, 261.9), (1.58, 259), (1.59, 261.9), (1.604, 264.8), (1.62, 269.5), (1.633, 272.4), (1.643, 270.5), (1.66, 269.5), (1.675, 269.5)],
    [(1.806, 321), (1.817, 313.3), (1.828, 308.6), (1.85, 305.7), (1.856, 281), (1.864, 261.9), (1.875, 251.4), (1.888, 251.4), (1.90, 254.3), (1.91, 256.2), (1.92, 250.5), (1.935, 241.9), (1.948, 241), (1.964, 241), (1.975, 239), (1.983, 231.4), (1.99, 222.9), (1.998, 216.2), (2.006, 225.7), (2.02, 235.2), (2.03, 232.4), (2.04, 229.5), (2.05, 227.6), (2.066, 225.7), (2.08, 225.7)],
    [(2.17, 225.7), (2.185, 224.8), (2.20, 223.8), (2.22, 224.8), (2.23, 225.7), (2.243, 221), (2.255, 217.1)],
    [(2.30, 265.7), (2.314, 262.9), (2.33, 261), (2.34, 261), (2.353, 258.1), (2.37, 253.3), (2.385, 249.5), (2.40, 245.7), (2.416, 241.9), (2.427, 239), (2.437, 227.6), (2.445, 219), (2.456, 221.9), (2.47, 225.7), (2.48, 233.3), (2.49, 243.8)],
    [(2.535, 267.6), (2.55, 261.9), (2.563, 256.2), (2.574, 249.5), (2.585, 244.8), (2.598, 241.9), (2.61, 240.6), (2.62, 240), (2.632, 241.9), (2.645, 244.8), (2.658, 247.6), (2.67, 250.5), (2.68, 252.4), (2.69, 257.1), (2.70, 261.9), (2.708, 264.8)],
]
sadness01_a1 = [
    [(1.052, 222.9), (1.063, 224.2), (1.076, 225.7), (1.09, 225.7), (1.10, 221), (1.115, 216.6), (1.13, 221), (1.147, 226.7), (1.162, 231.4), (1.178, 237.1), (1.194, 241.9), (1.207, 246.7), (1.215, 256.2), (1.22, 267.6), (1.233, 277.1), (1.246, 285.7), (1.257, 293.3), (1.27, 295.2), (1.285, 295.2), (1.296, 279), (1.308, 265.7), (1.32, 254.3), (1.333, 243.8), (1.35, 244.8), (1.36, 257.1), (1.37, 273.3), (1.38, 284.8), (1.39, 289.5), (1.40, 293.3), (1.415, 297.1), (1.423, 301), (1.435, 302.9), (1.446, 302.9), (1.46, 300), (1.47, 296.2), (1.478, 293.3), (1.494, 288.6), (1.51, 283.8), (1.525, 281), (1.538, 276.2), (1.55, 268.6), (1.56, 261.9), (1.57, 253.3)],
    [(1.65, 300), (1.675, 300), (1.69, 295.2), (1.707, 291.4), (1.72, 287.6), (1.738, 283.8), (1.75, 281.9), (1.76, 277.1), (1.767, 275.2), (1.778, 274.3), (1.79, 276.2), (1.80, 278.1), (1.81, 282.9), (1.825, 286.7), (1.836, 287.6), (1.844, 285.7), (1.85, 277.1), (1.86, 267.6), (1.868, 253.3)],
    [(1.932, 350), (1.943, 340), (1.954, 329.5), (1.967, 325.7), (1.975, 322.9), (1.983, 315.2), (1.99, 306.7), (1.998, 296.2), (2.006, 281), (2.014, 262.9), (2.022, 260), (2.03, 255.2), (2.038, 251.4), (2.046, 247.6), (2.054, 242.9), (2.06, 240), (2.07, 236.2), (2.077, 233.3), (2.085, 229.5), (2.093, 221.9), (2.10, 213.3), (2.11, 207.6), (2.117, 201), (2.125, 196.2), (2.134, 194.3), (2.145, 194.3), (2.156, 196.2), (2.164, 199), (2.172, 202.9), (2.18, 209.5), (2.19, 217.1)],
    [(2.232, 210.5), (2.25, 211.4), (2.265, 211.4), (2.28, 212), (2.29, 213.3), (2.30, 225.7), (2.314, 238.7), (2.33, 239.4), (2.342, 238.7), (2.353, 236.2), (2.37, 232.4), (2.385, 229.5), (2.40, 226.7), (2.416, 222.9), (2.427, 217.1), (2.437, 211.4), (2.448, 206.7), (2.456, 214.3), (2.47, 220), (2.48, 222.9), (2.49, 221.9), (2.503, 220), (2.516, 218.1), (2.53, 216.2), (2.55, 214.3), (2.567, 213.3), (2.582, 212), (2.598, 211.4), (2.61, 212.4), (2.626, 212.8), (2.642, 213.3), (2.653, 215.2), (2.664, 218.1), (2.674, 221), (2.685, 219), (2.696, 216.6), (2.708, 214.3)],
]

sadness02_a0 = [
    [(0.66, 261), (0.70, 253.8), (0.74, 251.5), (0.78, 249.4), (0.80, 252.3), (0.83, 251), (0.86, 253.8), (0.90, 259.6), (0.93, 265.5), (0.954, 259.6), (0.985, 229)],
    [(1.07, 300.6), (1.093, 280.1), (1.124, 271.3), (1.155, 271.9), (1.185, 266.9), (1.216, 269.9), (1.247, 271.3), (1.278, 269.9), (1.31, 262.6), (1.34, 258.2)],
    [(1.82, 292.4), (1.85, 283), (1.88, 278.7), (1.91, 284.5), (1.94, 299.1), (1.974, 309.4), (2.005, 300.6), (2.036, 277.2), (2.067, 262.6), (2.10, 250.9), (2.13, 248), (2.16, 258.2), (2.175, 242.1), (2.20, 230.4)],
    [(2.27, 315.2), (2.31, 329.8), (2.345, 332.7), (2.383, 338.6), (2.414, 347.4), (2.445, 348.8), (2.476, 343), (2.507, 329.8), (2.54, 306.4), (2.576, 283), (2.607, 271.3), (2.63, 259.6)],
    [(2.69, 303.5), (2.73, 291.8), (2.77, 274.3), (2.81, 242.1), (2.84, 224.6), (2.86, 212.9), (2.886, 236.3), (2.917, 236.3), (2.94, 264), (2.963, 245)],
    [(3.31, 385.4), (3.33, 362), (3.365, 350.3), (3.40, 345.9), (3.43, 332.7), (3.457, 344.4)],
    [(3.55, 309.4), (3.58, 283), (3.61, 267), (3.64, 283), (3.67, 309.4), (3.71, 319.6)],
]
sadness02_a1 = [
    [(0.815, 236.3), (0.845, 229), (0.884, 230.4), (0.923, 245), (0.954, 256.7), (0.985, 268.4), (1.0, 269.9)],
    [(1.054, 329.8), (1.077, 324.6), (1.108, 331.3), (1.13, 333.3), (1.155, 328.4), (1.178, 303.5)],
    [(1.34, 65.2), (1.417, 65.2), (1.518, 65.2)],
    [(2.13, 248), (2.16, 259.6), (2.19, 277.2), (2.22, 290.4), (2.25, 278.7), (2.28, 256.7), (2.31, 242.1), (2.33, 230.4), (2.36, 277.2), (2.39, 294.7), (2.42, 306.4), (2.46, 321), (2.49, 319.6), (2.52, 306.4), (2.55, 294.7), (2.576, 259.6), (2.60, 283), (2.62, 309.4), (2.646, 291.8), (2.66, 278.7)],
    [(3.14, 65.2), (3.195, 65.2), (3.23, 74), (3.27, 65.2)],
    [(3.47, 255.3), (3.52, 253.8), (3.55, 250.9), (3.58, 245), (3.61, 242.1), (3.64, 234.8), (3.67, 242.1), (3.70, 259.6), (3.73, 265.5), (3.76, 309.4), (3.78, 262.6)],
]

sadness03_a0 = [
    [(0.537, 208), (0.547, 205.9), (0.558, 202.9), (0.57, 200.7), (0.582, 200), (0.598, 199.7), (0.623, 199.7), (0.644, 199.5), (0.66, 198.2), (0.671, 197.3), (0.682, 196.3), (0.69, 195.4)],
    [(0.834, 206.9), (0.844, 203.2), (0.853, 199.5), (0.865, 197.3), (0.876, 195.2), (0.885, 192.6), (0.897, 190.4), (0.908, 188.8), (0.92, 187.8), (0.934, 187.2), (0.942, 186.2), (0.953, 184.6), (0.963, 183), (0.973, 181.9), (0.982, 181.4), (0.994, 180.3), (1.005, 179), (1.018, 177.1), (1.027, 175.5), (1.037, 177.7), (1.05, 180.3)],
    [(1.155, 192), (1.166, 189.4), (1.18, 186.2), (1.19, 182.4), (1.203, 179.8), (1.215, 177.7), (1.227, 175.5), (1.24, 173.9), (1.25, 172.9), (1.263, 171.8), (1.27, 167.6), (1.28, 164.4), (1.285, 162.2), (1.29, 171.8), (1.30, 180.9), (1.308, 179.8), (1.316, 175.5), (1.324, 173.9), (1.337, 171.8), (1.348, 170.7), (1.36, 170.2), (1.37, 169.7), (1.385, 169.7), (1.395, 169.7)],
    [(1.474, 163.8), (1.485, 166), (1.50, 167.6), (1.515, 169.1), (1.526, 168.6), (1.537, 166.5), (1.55, 165.4), (1.566, 164.1), (1.582, 162.8), (1.598, 161.2), (1.615, 159.6), (1.63, 158.5), (1.647, 157.1), (1.663, 156.4), (1.68, 155.6), (1.695, 156.4), (1.71, 158), (1.728, 160.6), (1.74, 161.7), (1.756, 162.2), (1.772, 162.2), (1.785, 162.8), (1.795, 164.4), (1.805, 166.5), (1.816, 168.6), (1.824, 171.8), (1.834, 178.2), (1.843, 183.5), (1.85, 186.2), (1.856, 182.4), (1.865, 178.7), (1.873, 171.8), (1.88, 164.4), (1.89, 155.3), (1.897, 155.9), (1.905, 159), (1.913, 160.6), (1.92, 162.2)],
    [(2.135, 192), (2.147, 189.4), (2.156, 187.2), (2.166, 184.6), (2.176, 181.9), (2.185, 180.9), (2.198, 181.4), (2.21, 182.2), (2.227, 183), (2.243, 184), (2.26, 185.6), (2.273, 186.7), (2.284, 187.2), (2.292, 185.6), (2.30, 183), (2.308, 181.9), (2.32, 183), (2.332, 184)],
    [(2.456, 193.1), (2.463, 187.8), (2.473, 179.3), (2.482, 177.1), (2.493, 170.7), (2.50, 167), (2.51, 164.4), (2.518, 160.6), (2.53, 159), (2.546, 157.4), (2.563, 156.4), (2.58, 155.6), (2.595, 156.4), (2.61, 157.4), (2.627, 158.5), (2.647, 159.6), (2.663, 159.3), (2.682, 158.5), (2.703, 158.5), (2.724, 158.5), (2.74, 159), (2.756, 160.1), (2.773, 161.7), (2.784, 163.8), (2.792, 165.4), (2.80, 166), (2.808, 164.4), (2.82, 162.8)],
]
sadness03_a1 = [
    [(0.965, 180.3), (0.97, 196.3), (0.976, 215.4), (0.98, 236.7), (0.985, 238.3), (0.998, 238.8), (1.005, 240), (1.015, 243.6), (1.02, 246.3), (1.03, 247.3), (1.04, 239.4), (1.05, 233), (1.063, 234.6), (1.073, 236.7), (1.082, 238.3), (1.095, 241), (1.105, 244.1), (1.115, 245.7), (1.126, 247.3), (1.134, 248.4), (1.142, 247.3), (1.152, 245.2), (1.163, 242.6), (1.174, 239.9), (1.18, 239)],
    [(1.26, 266.2), (1.273, 265.1), (1.284, 264.4), (1.30, 264.4), (1.316, 265.7), (1.332, 267), (1.348, 268.1), (1.365, 269.1), (1.373, 268.6), (1.384, 267.6), (1.392, 265.4), (1.40, 259), (1.405, 255.9), (1.41, 252.7), (1.418, 258), (1.424, 263.3), (1.434, 266.5)],
    [(1.474, 263.3), (1.48, 262.2), (1.494, 261.2), (1.506, 260.3), (1.518, 259.6), (1.526, 258), (1.534, 255.9), (1.544, 251.6), (1.553, 247.3), (1.56, 243.1), (1.566, 239), (1.574, 233.5), (1.58, 229.3), (1.585, 228.4), (1.60, 227.1), (1.615, 225), (1.622, 224.5), (1.63, 217.6), (1.64, 211.2), (1.647, 202.7), (1.655, 194.1), (1.66, 188.8), (1.666, 184.6)],
    [(1.752, 171.3), (1.763, 173.4), (1.774, 175), (1.785, 173.4), (1.795, 171.3), (1.80, 168.6), (1.808, 166), (1.816, 165.4)],
    [(1.88, 128.2), (1.89, 127.1), (1.905, 125.5), (1.92, 125), (1.937, 124.5), (1.948, 126.1), (1.958, 127.7), (1.97, 128.7)],
    [(2.37, 214.1), (2.38, 212.2), (2.39, 210.1), (2.40, 209), (2.41, 207.8), (2.43, 207.8), (2.45, 207.8), (2.47, 207.4), (2.476, 206.4), (2.484, 215.4), (2.49, 226), (2.495, 233), (2.50, 229.3), (2.508, 223.9), (2.516, 218.1)],
    [(2.58, 192), (2.59, 188.3), (2.60, 185.6), (2.607, 179.3), (2.615, 171.8), (2.623, 164.4), (2.63, 158), (2.64, 153.7), (2.647, 150.5), (2.656, 147.3), (2.664, 144.7), (2.67, 143.6), (2.68, 141.5), (2.688, 138.8), (2.696, 136.7), (2.704, 133.5), (2.71, 130.9), (2.72, 128.2), (2.73, 125.5), (2.737, 122.9), (2.745, 121.8), (2.758, 120.7), (2.773, 120.2), (2.79, 120.2), (2.805, 120.2)],
]

surprise01_a0 = [
    [(1.126, 120.3), (1.147, 118.7), (1.168, 117.1), (1.19, 115), (1.20, 113.4), (1.216, 111.1), (1.23, 117.1), (1.242, 123), (1.258, 127.9), (1.274, 129.7), (1.29, 130.6), (1.31, 131.3), (1.33, 132.2), (1.35, 135.3), (1.363, 136.5), (1.376, 147.5), (1.39, 151.2), (1.40, 156.1), (1.416, 158), (1.43, 158.4), (1.44, 158), (1.455, 154.3), (1.474, 152.7), (1.51, 152.7), (1.534, 152.7), (1.547, 145.1), (1.56, 137.1), (1.574, 126.7), (1.587, 123.6), (1.60, 121.7), (1.62, 120.5), (1.64, 120.5), (1.658, 119.9), (1.668, 110.7), (1.68, 99)],
    [(1.858, 150.6), (1.868, 143.9), (1.879, 138.3), (1.895, 135.3), (1.91, 137.1), (1.926, 139.6), (1.937, 141.4)],
    [(1.984, 158.6), (2.0, 161.7), (2.016, 163.5), (2.026, 169.7), (2.037, 177), (2.047, 188.1), (2.063, 193), (2.08, 196.7), (2.092, 201.6), (2.105, 213.9), (2.118, 225), (2.13, 234.2), (2.147, 233.5), (2.163, 232.3), (2.18, 230.8), (2.19, 226.2)],
]
surprise01_a1 = [
    [(1.279, 132.4), (1.297, 132.4), (1.316, 132.4)],
    [(1.363, 156.8), (1.376, 161.1), (1.39, 164.1), (1.403, 167.2), (1.416, 172.1), (1.43, 175.8), (1.442, 179.5), (1.455, 186.9), (1.468, 193.6), (1.482, 195.5), (1.495, 198.2), (1.508, 198.2), (1.52, 197.9), (1.534, 196.7), (1.547, 188.1), (1.56, 180.7), (1.574, 181), (1.587, 181), (1.60, 180.1), (1.613, 178.3)],
]

# single isolated frames: they draw nothing but still set the axis range
surprise02_a0 = [
    [(0.315, 250)],
    [(0.682, 245), (0.705, 265.9), (0.72, 271.4), (0.738, 269.2), (0.766, 267.6), (0.795, 265.9), (0.823, 267), (0.85, 270.7), (0.88, 274.6), (0.903, 268.1), (0.926, 261.5), (0.94, 254.9), (0.96, 248.4), (0.978, 256), (1.0, 253.8), (1.025, 250.5), (1.048, 249.5), (1.07, 252.7), (1.086, 254.9)],
    [(1.198, 194.2), (1.217, 190.3), (1.236, 195.8), (1.255, 234.1), (1.273, 248.4), (1.29, 253.8), (1.32, 258.2), (1.34, 254.9), (1.36, 248.4), (1.386, 250.5), (1.41, 249.5), (1.43, 246.2), (1.46, 241.8), (1.49, 226.5), (1.513, 208.9), (1.536, 191.8)],
    [(1.77, 151.5), (1.79, 156.4), (1.818, 164), (1.832, 169.5)],
    [(1.90, 234.1), (1.926, 241.8), (1.95, 249.5), (1.97, 253.8)],
    [(2.03, 314), (2.053, 331.6), (2.07, 345.8), (2.09, 351.3), (2.11, 362.3), (2.13, 391.8), (2.15, 391.8), (2.175, 373.2), (2.20, 362.3), (2.22, 352.4)],
]
surprise02_a1 = [
    [(0.574, 305.3), (0.593, 318.5), (0.616, 322.4), (0.635, 310.8), (0.654, 303.1), (0.663, 285.6), (0.682, 264.8)],
    [(0.785, 190.3), (0.804, 187), (0.823, 189.2), (0.84, 195.8), (0.86, 196.2), (0.884, 189.2), (0.907, 184.8), (0.926, 179.4), (0.945, 176.1), (0.964, 176.1), (0.987, 177.8), (1.01, 177.8), (1.034, 176.5), (1.057, 177.2), (1.08, 180), (1.104, 178.3), (1.127, 176.5)],
    [(1.222, 191.4), (1.236, 195.8), (1.255, 224.3), (1.278, 234.1), (1.30, 240.7), (1.32, 238.5), (1.34, 235.2), (1.367, 235.2), (1.395, 236.3), (1.42, 241.8), (1.443, 245.1), (1.46, 248.4)],
    [(1.73, 247.3), (1.752, 259.3), (1.776, 268.1), (1.80, 274.6), (1.823, 281.2), (1.84, 282.3), (1.86, 272.4), (1.88, 259.3)],
    [(1.96, 181.5), (1.978, 179.4), (1.997, 182.6)],
    [(2.137, 180.4), (2.16, 194.7), (2.184, 187), (2.203, 180.4), (2.22, 183.7)],
]

surprise03_a0 = [
    [(0.55, 782)],
    [(0.643, 186.8), (0.675, 264), (0.706, 334.7), (0.737, 347.6), (0.768, 350.8), (0.787, 348.9)],
    [(0.85, 373.3), (0.874, 376.5), (0.90, 347.6), (0.924, 334.7), (0.95, 318.6), (0.974, 296.1), (1.0, 309), (1.024, 334.7), (1.05, 360.5), (1.074, 383), (1.10, 379.7), (1.117, 431.2), (1.142, 469.8)],
    [(1.267, 219), (1.30, 167.5), (1.33, 148.2), (1.36, 132.2), (1.39, 125.7)],
    [(1.454, 239.5), (1.485, 251.1), (1.516, 257.6), (1.547, 251.1), (1.578, 247.9), (1.61, 254.3), (1.64, 260.8), (1.672, 267.2), (1.70, 267.2), (1.735, 254.3)],
    [(1.953, 267.2), (1.977, 254.3), (2.0, 280.1), (2.027, 251.1), (2.052, 215.8), (2.077, 257.6), (2.10, 273.6), (2.127, 276.8), (2.152, 244.7), (2.177, 231.8), (2.20, 270.4), (2.227, 270.4), (2.252, 283.3), (2.277, 289.7), (2.30, 299.4), (2.327, 305.8), (2.35, 296.1), (2.377, 276.8), (2.40, 244.7), (2.426, 219), (2.45, 209.3), (2.48, 206.1), (2.51, 238.3), (2.53, 309), (2.557, 315.4), (2.59, 309), (2.62, 289.7), (2.65, 264), (2.68, 238.3), (2.713, 228.6), (2.75, 228.6), (2.78, 235), (2.81, 247.9), (2.845, 276.8), (2.875, 312.2), (2.907, 334.7), (2.94, 344.4), (2.97, 347.6), (3.0, 347.6), (3.03, 334.7), (3.06, 302.6)],
]
surprise03_a1 = [
    [(1.64, 109.6), (1.69, 106.4), (1.735, 104.5), (1.78, 101.9), (1.815, 96.8), (1.84, 112.9), (1.86, 100)],
    [(2.345, 128.9), (2.377, 151.4), (2.40, 161.1), (2.426, 164.3), (2.45, 177.2), (2.48, 185.5), (2.51, 180.4), (2.545, 180.4), (2.576, 183.6), (2.61, 186.8)],
    [(2.69, 148.2), (2.713, 168.8), (2.75, 167.5), (2.78, 164.3), (2.81, 157.9), (2.845, 154.7), (2.888, 154.7), (2.93, 157.9), (2.97, 157.9), (3.0, 151.4)],
    [(3.0, 64)],
]

titles = [
    "anger01: 我并不是觉得非要有特别的品质。",
    "anger02: What am I, I'm a racer, son of god.",
    "anger03: Hurry up, hurry up!",
    "disgust01: it doesn't make any sense. but then again...",
    "disgust02: oh yeah. yeah, no, there's a horrifying moment...",
    "disgust03: oh, it looks so terrible. i don't think i want this...",
    "fear01: so there's huge amount of danger, ...",
    "fear02: maybe it's old school, but i don't see how...",
    "fear03: that world. you're going to hide inside yourself...",
    "happiness01: 我已经习惯这种气候啦。",
    "happiness02: 裁判全给了满分！",
    "happiness03: And vowed he'd change the pigtail's place.",
    "sadness01: 我一直到清晨四点才到家。",
    "sadness02: 比如说，“华尔街日报”就很好。",
    "sadness03: Fur flew through the air, teeth gnashed.",
    "surprise01: This is Jack, the relatives of Tom.",
    "surprise02: Tom now let our arrows fly!",
    "surprise03: 不是很喜欢？你把我绕晕了。",
]

panels = [
    (anger01_a0, anger01_a1), (anger02_a0, anger02_a1), (anger03_a0, anger03_a1),
    (disgust01_a0, disgust01_a1), (disgust02_a0, disgust02_a1), (disgust03_a0, disgust03_a1),
    (fear01_a0, fear01_a1), (fear02_a0, fear02_a1), (fear03_a0, fear03_a1),
    (happiness01_a0, happiness01_a1), (happiness02_a0, happiness02_a1), (happiness03_a0, happiness03_a1),
    (sadness01_a0, sadness01_a1), (sadness02_a0, sadness02_a1), (sadness03_a0, sadness03_a1),
    (surprise01_a0, surprise01_a1), (surprise02_a0, surprise02_a1), (surprise03_a0, surprise03_a1),
]

alphas = ["0.0", "2.5"]
colors = ["#1f77b4", "#ff7f0e"]


def to_frame(series):
    rows = []
    for label, segs in zip(alphas, series):
        for k, seg in enumerate(segs):
            for t, f in seg:
                rows.append((t, f, label, label + "_" + str(k)))
    return pd.DataFrame(rows, columns=["t", "f", "alpha", "seg"])


sns.set_style("ticks")
plt.rcParams["font.family"] = ["Noto Sans CJK SC", "DejaVu Sans"]
plt.rcParams["font.size"] = 11
plt.rcParams["axes.unicode_minus"] = False

fig, axes = plt.subplots(6, 3, figsize=(15.68, 20.185), dpi=200)
fig.subplots_adjust(left=0.045, right=0.992, top=0.984, bottom=0.023, wspace=0.17, hspace=0.285)

for ax, title, series in zip(axes.flat, titles, panels):
    df = to_frame(series)
    sns.lineplot(data=df, x="t", y="f", hue="alpha", hue_order=alphas, units="seg",
                 estimator=None, sort=False, palette=colors, legend=False, ax=ax, linewidth=1.5)
    ax.set_title(title, fontsize=11, pad=7)
    ax.set_xlabel("Time (s)", labelpad=1)
    ax.set_ylabel("Pitch (Hz)")
    for s in ax.spines.values():
        s.set_visible(True)
        s.set_linewidth(0.8)

    handles = [Line2D([], [], linestyle="none"),
               Line2D([], [], color=colors[0], lw=1.5),
               Line2D([], [], color=colors[1], lw=1.5)]
    ax.legend(handles, [r"$\alpha$:", "0.0", "2.5"], loc="upper center",
              bbox_to_anchor=(0.48, 1.0), ncol=3, frameon=False, fontsize=11,
              handlelength=1.1, handletextpad=0.1, columnspacing=0.1,
              borderaxespad=0.1, borderpad=0.25)

fig.savefig("out.png", dpi=200)
